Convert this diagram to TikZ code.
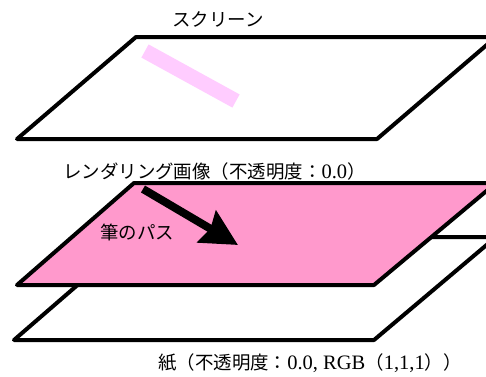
\documentclass[tikz,border=0pt]{standalone}
\usepackage{fontspec}
\setmainfont{Liberation Serif}
\newfontfamily\jp{Noto Sans CJK JP}[Scale=0.9]
\usetikzlibrary{arrows.meta}
\definecolor{layerpink}{HTML}{FF99CC}
\definecolor{strokepink}{HTML}{FFCCFF}
\tikzset{
  layer/.style={line width=4pt, line join=round, draw=black},
  lbl/.style={inner sep=0pt, font=\fontsize{20.5}{23}\selectfont},
}
\begin{document}
\begin{tikzpicture}[x=1pt,y=-1pt]
\useasboundingbox (0,0) rectangle (486,376);
\fill[white] (0,0) rectangle (486,376);
\begin{scope}
\clip (0,0) rectangle (486,376);
% paper
\draw[layer, fill=white] (133,237) -- (496,237) -- (374,340) -- (14,340) -- cycle;
% rendered image
\draw[layer, fill=layerpink] (134,183) -- (496,183) -- (374,285) -- (17,285) -- cycle;
% screen
\draw[layer, fill=white] (136,37) -- (496,37) -- (377,139) -- (17,139) -- cycle;
\end{scope}
% pink stroke on screen
\draw[strokepink, line width=15pt] (145,51) -- (236,101);
% brush path arrow
\coordinate (pathstart) at (143,189);
\coordinate (pathend) at (238,245);
\draw[line width=8pt, -{Stealth[length=36pt,width=36pt,inset=4pt]}] (pathstart) -- (pathend);
% labels
\node[lbl, anchor=west] (screen) at (172,19) {\jp スクリーン};
\node[lbl, anchor=west] (render) at (63,171) {\jp レンダリング画像（不透明度：\rmfamily 0.0\jp ）};
\node[lbl, anchor=west] (pathlbl) at (100,232) {\jp 筆のパス};
\node[lbl, anchor=west] (paper) at (158,363) {\jp 紙（不透明度：\rmfamily 0.0, RGB\jp（\rmfamily 1,1,1\jp ））};
\end{tikzpicture}
\end{document}
